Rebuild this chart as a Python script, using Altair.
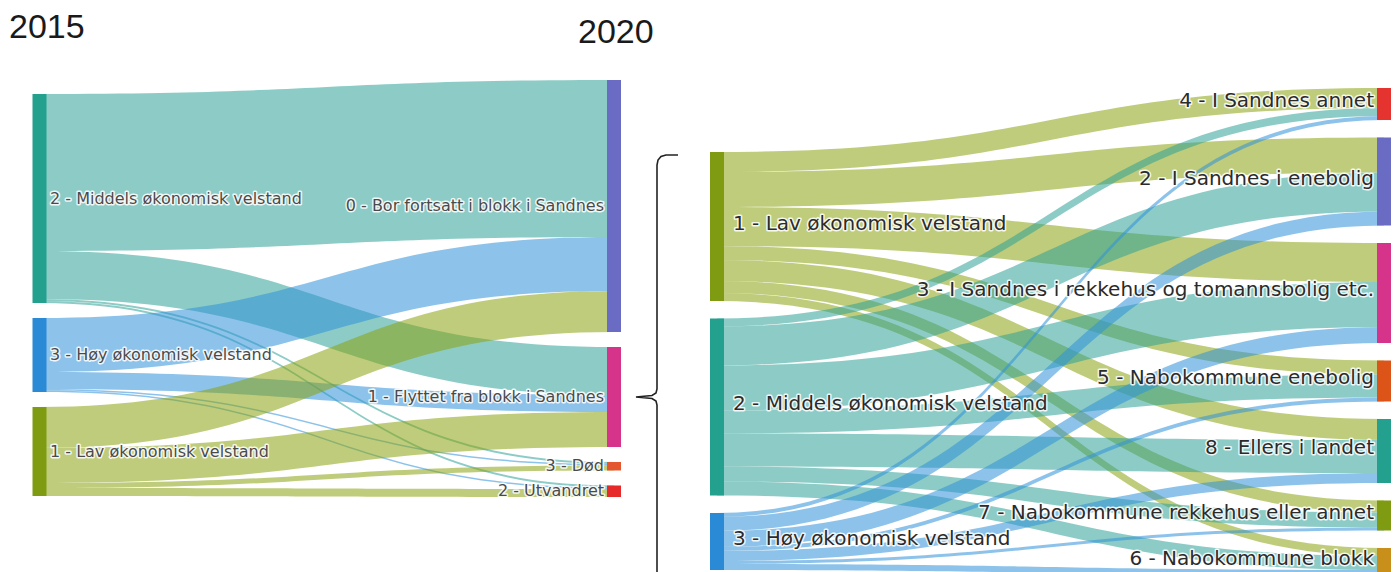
import altair as alt
import numpy as np
import pandas as pd

# ---------------- data ----------------
# Left diagram: households in blocks, 2015 -> 2020
A_SOURCES = ["2 - Middels økonomisk velstand", "3 - Høy økonomisk velstand", "1 - Lav økonomisk velstand"]
A_TARGETS = ["0 - Bor fortsatt i blokk i Sandnes", "1 - Flyttet fra blokk i Sandnes", "3 - Død", "2 - Utvandret"]
A_FLOW_MIDDELS = [157, 48, 2, 2]
A_FLOW_HOY = [54, 17, 1.5, 1.5]
A_FLOW_LAV = [41, 35, 5, 8]

# Right diagram: where the movers went
B_SOURCES = ["1 - Lav økonomisk velstand", "2 - Middels økonomisk velstand", "3 - Høy økonomisk velstand"]
B_TARGETS = ["4 - I Sandnes annet", "2 - I Sandnes i enebolig",
             "3 - I Sandnes i rekkehus og tomannsbolig etc.", "5 - Nabokommune enebolig",
             "8 - Ellers i landet", "7 - Nabokommune rekkehus eller annet", "6 - Nabokommune blokk"]
B_FLOW_LAV = [20, 35, 39, 14, 21, 12, 8]
B_FLOW_MIDDELS = [8, 39, 45, 23, 33, 15, 14]
B_FLOW_HOY = [4, 14, 16, 4, 10, 3, 6]

YEAR_LABELS = ["2015", "2020"]

# ---------------- styles ----------------
NODE_COLORS = {
    "2 - Middels økonomisk velstand": "#23a08e",
    "3 - Høy økonomisk velstand": "#2a8ad6",
    "1 - Lav økonomisk velstand": "#7f9b12",
    "0 - Bor fortsatt i blokk i Sandnes": "#6a6cc4",
    "1 - Flyttet fra blokk i Sandnes": "#d6338b",
    "3 - Død": "#e4572e",
    "2 - Utvandret": "#e62a2a",
    "4 - I Sandnes annet": "#e5332f",
    "2 - I Sandnes i enebolig": "#6a6cc4",
    "3 - I Sandnes i rekkehus og tomannsbolig etc.": "#d6338b",
    "5 - Nabokommune enebolig": "#dc5418",
    "8 - Ellers i landet": "#23a08e",
    "7 - Nabokommune rekkehus eller annet": "#7f9b12",
    "6 - Nabokommune blokk": "#c8901a",
}
LINK_COLORS = {
    "2 - Middels økonomisk velstand": "#30a297",
    "3 - Høy økonomisk velstand": "#3092d9",
    "1 - Lav økonomisk velstand": "#8ba20f",
}

H = 564                      # plot height (px), y scale is 1 unit per px
W_A, W_B = 687, 696
UNIT_A, UNIT_B = 574.5, 667.0          # px between the two node columns
XDOM_A = [-31.5 / UNIT_A, -31.5 / UNIT_A + W_A / UNIT_A]
XDOM_B = [-22.0 / UNIT_B, -22.0 / UNIT_B + W_B / UNIT_B]


def sankey_layout(sources, targets, matrix, top_left, top_right, pad, samples=50):
    ns, nt = len(sources), len(targets)
    src_tot = [sum(matrix[i]) for i in range(ns)]
    tgt_tot = [sum(matrix[i][j] for i in range(ns)) for j in range(nt)]
    nodes = []
    src_top, y = [], top_left
    for name, tot in zip(sources, src_tot):
        src_top.append(y)
        nodes.append({"name": name, "stage": 0.0, "y": y, "y2": y + tot, "ymid": y + tot / 2,
                      "side": "left", "color": NODE_COLORS[name]})
        y += tot + pad
    tgt_top, y = [], top_right
    for name, tot in zip(targets, tgt_tot):
        tgt_top.append(y)
        nodes.append({"name": name, "stage": 1.0, "y": y, "y2": y + tot, "ymid": y + tot / 2,
                      "side": "right", "color": NODE_COLORS[name]})
        y += tot + pad
    t = np.linspace(0, 1, samples)
    bx = 1.5 * t * (1 - t) ** 2 + 1.5 * t ** 2 * (1 - t) + t ** 3
    ease = 3 * t ** 2 - 2 * t ** 3
    so, to = list(src_top), list(tgt_top)
    links = []
    for i in range(ns):
        for j in range(nt):
            v = matrix[i][j]
            if v <= 0:
                continue
            y0, y1 = so[i], to[j]
            so[i] += v
            to[j] += v
            for xx, e in zip(bx, ease):
                yt = y0 + (y1 - y0) * e
                links.append({"link": f"{i}-{j}", "x": float(xx), "y": float(yt), "y2": float(yt + v),
                              "color": LINK_COLORS[sources[i]]})
    return pd.DataFrame(nodes), pd.DataFrame(links)


nodes_a, links_a = sankey_layout(A_SOURCES, A_TARGETS, [A_FLOW_MIDDELS, A_FLOW_HOY, A_FLOW_LAV],
                                 top_left=86, top_right=72, pad=15)
nodes_b, links_b = sankey_layout(B_SOURCES, B_TARGETS, [B_FLOW_LAV, B_FLOW_MIDDELS, B_FLOW_HOY],
                                 top_left=144, top_right=80, pad=17.5)


def panel(nodes, links, width, xdom, font_size, text_color, dx_left, dx_right, dy, extra=()):
    xs = alt.Scale(domain=xdom, nice=False, zero=False)
    ys = alt.Scale(domain=[0, H], reverse=True, nice=False, zero=False)
    link_layer = alt.Chart(links).mark_area(opacity=0.55, clip=True).encode(
        x=alt.X("x:Q", scale=xs, axis=None),
        y=alt.Y("y:Q", scale=ys, axis=None, stack=None),
        y2="y2:Q",
        detail="link:N",
        color=alt.Color("color:N", scale=None),
    )
    node_layer = alt.Chart(nodes).mark_rule(strokeWidth=14, clip=True).encode(
        x=alt.X("stage:Q", scale=xs, axis=None),
        y=alt.Y("y:Q", scale=ys, axis=None),
        y2="y2:Q",
        color=alt.Color("color:N", scale=None),
    )
    layers = [link_layer, node_layer]
    for side, align, dx in (("left", "left", dx_left), ("right", "right", dx_right)):
        base = alt.Chart(nodes).transform_filter(alt.datum.side == side)
        enc = dict(x=alt.X("stage:Q", scale=xs, axis=None),
                   y=alt.Y("ymid:Q", scale=ys, axis=None),
                   text="name:N")
        halo = base.mark_text(align=align, baseline="middle", dx=dx, dy=dy, font="DejaVu Sans",
                              fontSize=font_size, fill="white", stroke="white", strokeWidth=3,
                              strokeOpacity=0.85, strokeJoin="round").encode(**enc)
        txt = base.mark_text(align=align, baseline="middle", dx=dx, dy=dy, font="DejaVu Sans",
                             fontSize=font_size, color=text_color).encode(**enc)
        layers += [halo, txt]
    layers += [e(xs, ys) for e in extra]
    return alt.layer(*layers).properties(width=width, height=H)


def year_label(text, stage, y, dx):
    def make(xs, ys):
        df = pd.DataFrame({"label": [text], "stage": [stage], "y": [y]})
        return alt.Chart(df).mark_text(align="left", baseline="middle", dx=dx, font="Liberation Sans",
                                       fontSize=34, color="#1a1a1a").encode(
            x=alt.X("stage:Q", scale=xs, axis=None),
            y=alt.Y("y:Q", scale=ys, axis=None),
            text="label:N")
    return make


def brace(xs, ys):
    # curly brace pointing from the "Flyttet" node to the right-hand diagram
    tip = float(nodes_a.loc[nodes_a["name"] == A_TARGETS[1], "ymid"].iloc[0])
    top = float(nodes_b.loc[nodes_b["side"] == "left", "y"].min()) + 3
    bottom = H + 40
    pts = [(64, top), (52, top), (47, top + 1.5), (44, top + 5), (43, top + 10),
           (43, tip - 8), (42, tip - 4), (38, tip - 1.5), (22, tip), (38, tip + 1.5),
           (42, tip + 4), (43, tip + 8), (43, bottom)]
    df = pd.DataFrame({"o": list(range(len(pts))),
                       "x": [1 + p[0] / UNIT_A for p in pts],
                       "y": [p[1] for p in pts]})
    return alt.Chart(df).mark_line(color="#222222", strokeWidth=1.6, clip=True).encode(
        x=alt.X("x:Q", scale=xs, axis=None),
        y=alt.Y("y:Q", scale=ys, axis=None),
        order="o:Q")


panel_a = panel(nodes_a, links_a, W_A, XDOM_A, 16, "#4a4a4a", 10.5, -10, 0,
                extra=(year_label(YEAR_LABELS[0], 0.0, 20, -30.5),
                       year_label(YEAR_LABELS[1], 1.0, 25, -36),
                       brace))
panel_b = panel(nodes_b, links_b, W_B, XDOM_B, 20, "#2b2b2b", 16, -10, -3)

chart = alt.hconcat(panel_a, panel_b, spacing=0, bounds="flush").resolve_scale(
    x="independent", y="independent"
).properties(padding=0, background="white").configure_view(strokeWidth=0)

chart.save("out.html", embed_options={"renderer": "svg", "actions": False})
